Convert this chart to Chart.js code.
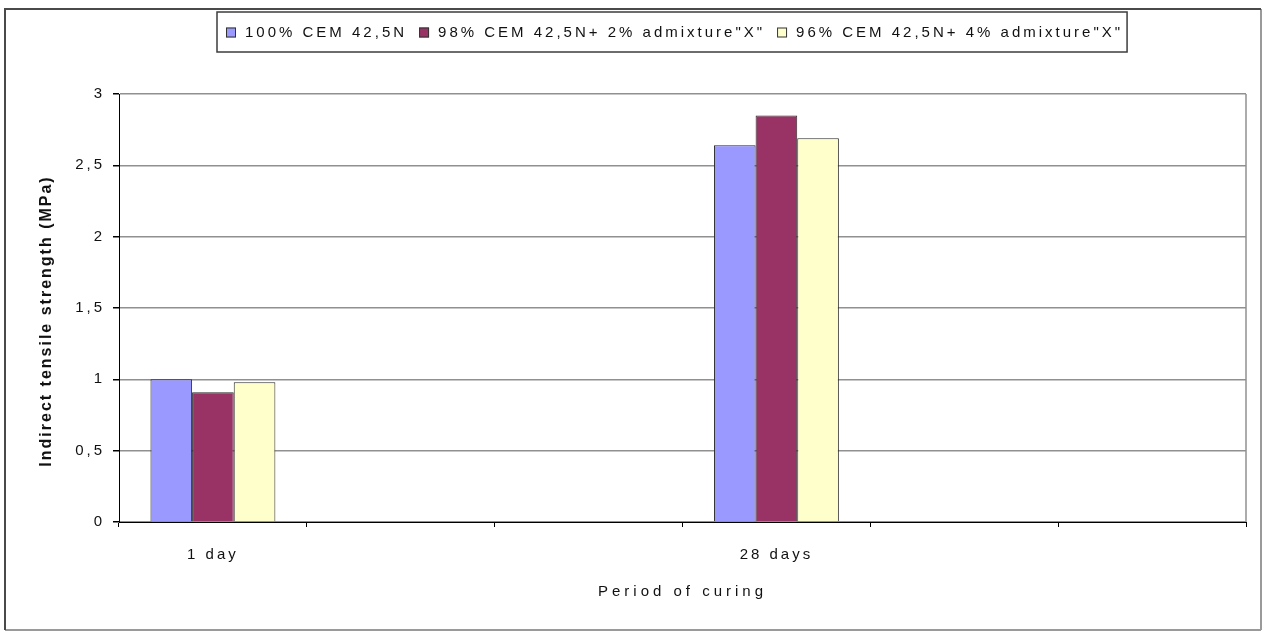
<!DOCTYPE html>
<html>
<head>
<meta charset="utf-8">
<script src="https://cdn.jsdelivr.net/npm/chart.js@4.4.1/dist/chart.umd.min.js"></script>
<style>
  html, body { margin: 0; padding: 0; background: #fff; }
  canvas { display: block; }
</style>
</head>
<body>
<canvas id="chart" width="1265" height="633"></canvas>
<script>
// Curing periods on the x axis (unlabelled slots keep the spacing of the groups)
const curingPeriods = ['1 day', '', '', '28 days', '', ''];

// Mix names
const seriesNames = [
  '100% CEM 42,5N',
  '98% CEM 42,5N+ 2% admixture"X"',
  '96% CEM 42,5N+ 4% admixture"X"'
];

// Indirect tensile strength, MPa
const cem100 = [1.00, null, null, 2.64, null, null];
const cem98  = [0.91, null, null, 2.85, null, null];
const cem96  = [0.98, null, null, 2.69, null, null];

// Value axis ticks
const strengthTicks = [0, 0.5, 1, 1.5, 2, 2.5, 3];

const seriesColors = ['#9999FF', '#993366', '#FFFFCC'];
const FONT = '"Liberation Sans", Arial, Helvetica, sans-serif';

// White page with the bevelled outer frame and the plot-area right edge
const framePlugin = {
  id: 'frame',
  beforeDraw(chart) {
    const ctx = chart.ctx;
    const W = chart.width, H = chart.height;
    ctx.save();
    ctx.fillStyle = '#ffffff';
    ctx.fillRect(0, 0, W, H);
    ctx.lineWidth = 2;
    ctx.strokeStyle = '#9a9a9a';
    ctx.beginPath();
    ctx.moveTo(W - 4, 9); ctx.lineTo(W - 4, H - 3);
    ctx.moveTo(5, H - 3); ctx.lineTo(W - 4, H - 3);
    ctx.stroke();
    ctx.strokeStyle = '#4a4a4a';
    ctx.beginPath();
    ctx.moveTo(5, H - 3); ctx.lineTo(5, 9); ctx.lineTo(W - 4, 9);
    ctx.stroke();
    ctx.restore();
  },
  beforeDatasetsDraw(chart) {
    const { ctx, chartArea: a } = chart;
    ctx.save();
    ctx.strokeStyle = '#909090';
    ctx.lineWidth = 1.5;
    ctx.beginPath();
    ctx.moveTo(a.right, a.top);
    ctx.lineTo(a.right, a.bottom);
    ctx.stroke();
    ctx.restore();
  }
};

// Wider letter spacing for axis texts
const spacingPlugin = {
  id: 'spacing',
  beforeDraw(chart) {
    const wrap = (scale, method, spacing, dy) => {
      const key = '_spaced_' + method;
      if (scale[key]) return;
      const orig = scale[method];
      scale[method] = function (...args) {
        const ctx = this.ctx;
        ctx.save();
        ctx.letterSpacing = spacing;
        if (dy) ctx.translate(0, dy);
        orig.apply(this, args);
        ctx.restore();
      };
      scale[key] = true;
    };
    wrap(chart.scales.x, 'drawLabels', '3px', 0);
    wrap(chart.scales.x, 'drawTitle', '4px', 0);
    wrap(chart.scales.y, 'drawLabels', '3px', 0);
    wrap(chart.scales.y, 'drawTitle', '2px', 13);
  }
};

// Boxed legend across the top
const boxedLegend = {
  id: 'boxedLegend',
  afterDraw(chart) {
    const ctx = chart.ctx;
    const top = 12, height = 40;
    const midY = top + height / 2 + 0.5;
    ctx.save();
    ctx.font = '15px ' + FONT;
    ctx.letterSpacing = '3px';
    ctx.textBaseline = 'middle';
    ctx.textAlign = 'left';
    let x = 226;
    chart.data.datasets.forEach((ds, i) => {
      ctx.fillStyle = ds.backgroundColor;
      ctx.fillRect(x, midY - 5, 10, 10);
      ctx.strokeStyle = '#333';
      ctx.lineWidth = 1;
      ctx.strokeRect(x + 0.5, midY - 4.5, 9, 9);
      ctx.fillStyle = '#111';
      ctx.fillText(ds.label, x + 19, midY);
      const w = ctx.measureText(ds.label).width;
      x += 19 + w + (i < chart.data.datasets.length - 1 ? 12 : 4);
    });
    ctx.strokeStyle = '#3c3c3c';
    ctx.lineWidth = 1.5;
    ctx.strokeRect(217, top, x - 217, height);
    ctx.restore();
  }
};

const datasets = [cem100, cem98, cem96].map((values, i) => ({
  label: seriesNames[i],
  data: values,
  backgroundColor: seriesColors[i],
  borderColor: '#2a2a2a',
  borderWidth: 1,
  barPercentage: 1,
  categoryPercentage: 0.665
}));

new Chart(document.getElementById('chart'), {
  type: 'bar',
  data: { labels: curingPeriods, datasets },
  plugins: [framePlugin, spacingPlugin, boxedLegend],
  options: {
    responsive: false,
    animation: false,
    devicePixelRatio: 1,
    layout: { padding: { top: 94, left: 0, right: 19, bottom: 0 } },
    plugins: {
      legend: { display: false },
      tooltip: { enabled: false }
    },
    scales: {
      x: {
        offset: true,
        grid: {
          offset: true,
          drawOnChartArea: false,
          tickLength: 5,
          tickColor: '#000',
          lineWidth: 1
        },
        border: { color: '#000', width: 1 },
        ticks: {
          font: { family: FONT, size: 15 },
          color: '#111',
          padding: 19,
          maxRotation: 0,
          autoSkip: false
        },
        title: {
          display: true,
          text: 'Period of curing',
          font: { family: FONT, size: 15 },
          color: '#111',
          padding: { top: 0, bottom: 32 }
        },
        afterFit(scale) { scale.height = 111; }
      },
      y: {
        min: 0,
        max: 3,
        afterBuildTicks(scale) {
          scale.ticks = strengthTicks.map(v => ({ value: v }));
        },
        grid: {
          color: '#909090',
          lineWidth: 1.5,
          tickLength: 6,
          tickColor: '#000'
        },
        border: { color: '#000', width: 1 },
        ticks: {
          font: { family: FONT, size: 15 },
          color: '#111',
          padding: 8,
          callback: v => String(v).replace('.', ',')
        },
        title: {
          display: true,
          text: 'Indirect tensile strength (MPa)',
          font: { family: FONT, size: 16, weight: 'bold' },
          color: '#111',
          padding: { top: 37, bottom: 0 }
        },
        afterFit(scale) { scale.width = 119; }
      }
    }
  }
});
</script>
</body>
</html>
